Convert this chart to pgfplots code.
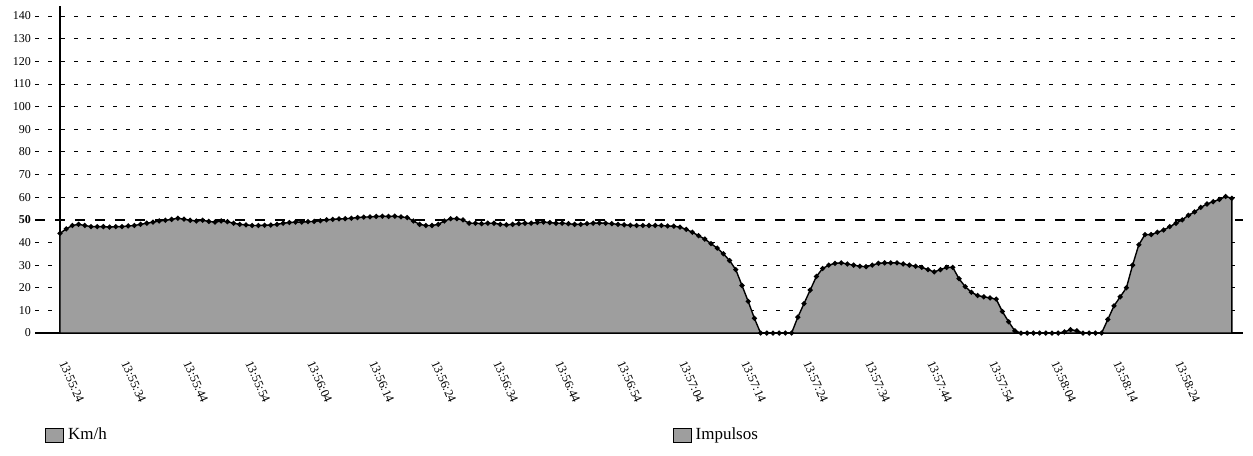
\documentclass[border=0pt]{standalone}
\usepackage{pgfplots}
\pgfplotsset{compat=1.18}
\usepackage{fontspec}
\setmainfont{Liberation Serif}
\begin{document}
\begin{tikzpicture}
\begin{axis}[
  scale only axis,
  width=591.5pt, height=163.5pt,
  xmin=0, xmax=190.8, ymin=0, ymax=144.4,
  axis x line=bottom, axis y line=left,
  axis line style={-, line width=0.7pt},
  clip=false,
  major tick length=0pt,
  /pgf/number format/assume math mode=true,
  ytick={0,10,...,140},
  yticklabels={0,10,20,30,40,\textbf{50},60,70,80,90,100,110,120,130,140},
  yticklabel style={font=\fontsize{6}{7}\selectfont, xshift=-11pt},
  xtick={0,10,...,180},
  xticklabels={13:55:24,13:55:34,13:55:44,13:55:54,13:56:04,13:56:14,13:56:24,13:56:34,13:56:44,13:56:54,13:57:04,13:57:14,13:57:24,13:57:34,13:57:44,13:57:54,13:58:04,13:58:14,13:58:24},
  xticklabel style={font=\fontsize{6.2}{7}\selectfont, rotate=-66, anchor=west},
  xticklabel shift=11pt,
  legend columns=2,
  legend style={at={(axis cs:-3.4,-45)}, anchor=west, draw=none, fill=none,
    font=\fontsize{8.5}{10}\selectfont,
    /tikz/every even column/.append style={column sep=281pt}},
  legend cell align=left,
  legend image code/.code={\draw[#1, draw=black, line width=0.4pt] (0pt,-3.5pt) rectangle (9pt,3.5pt);},
]
\pgfplotsinvokeforeach{10,20,30,40,60,70,80,90,100,110,120,130,140}{
  \draw[black, line width=0.4pt, dash pattern=on 2pt off 4.5pt] (axis cs:-4,#1) -- (axis cs:190.8,#1);
}
\draw[black, line width=0.7pt, dash pattern=on 5pt off 5pt] (axis cs:-4,50) -- (axis cs:190.8,50);
\draw[black, line width=0.7pt] (axis cs:-4,0) -- (axis cs:0,0);
\addplot[draw=black, line width=0.7pt, fill=black!38, mark=*, mark size=0.9pt, mark options={fill=black}]
coordinates {
(0,44)(1,46)(2,47.5)(3,48)(4,47.5)(5,47)(6,47)(7,47)(8,46.8)(9,47)
(10,47)(11,47.3)(12,47.5)(13,48)(14,48.5)(15,49)(16,49.5)(17,49.8)(18,50.2)(19,50.7)
(20,50.3)(21,49.8)(22,49.5)(23,49.8)(24,49.3)(25,49)(26,49.5)(27,49.2)(28,48.5)(29,48)
(30,47.8)(31,47.5)(32,47.5)(33,47.6)(34,47.7)(35,48)(36,48.5)(37,48.8)(38,49)(39,49)
(40,49.2)(41,49.3)(42,49.6)(43,50)(44,50.2)(45,50.4)(46,50.5)(47,50.7)(48,51)(49,51.2)
(50,51.3)(51,51.5)(52,51.6)(53,51.5)(54,51.6)(55,51.3)(56,51)(57,49.5)(58,48)(59,47.5)
(60,47.5)(61,48)(62,49.5)(63,50.5)(64,50.5)(65,50)(66,48.5)(67,48.5)(68,48.3)(69,48.5)
(70,48.5)(71,48)(72,47.8)(73,48)(74,48.3)(75,48.5)(76,48.5)(77,48.8)(78,49)(79,48.8)
(80,48.5)(81,48.5)(82,48.3)(83,48)(84,48)(85,48.3)(86,48.5)(87,48.6)(88,48.5)(89,48.3)
(90,48)(91,47.8)(92,47.6)(93,47.5)(94,47.5)(95,47.5)(96,47.5)(97,47.5)(98,47.3)(99,47.2)
(100,46.8)(101,45.8)(102,44.5)(103,43)(104,41.5)(105,39.5)(106,37.5)(107,35)(108,32)(109,28)
(110,21)(111,14)(112,6.5)(113,0)(114,0)(115,0)(116,0)(117,0)(118,0)(119,7)
(120,13)(121,19)(122,25)(123,28.5)(124,30)(125,30.8)(126,31)(127,30.5)(128,30)(129,29.5)
(130,29.3)(131,30)(132,30.8)(133,31)(134,31)(135,31)(136,30.5)(137,30)(138,29.5)(139,29)
(140,28)(141,27)(142,28)(143,29)(144,29)(145,24)(146,20.5)(147,18)(148,16.6)(149,16)
(150,15.5)(151,15)(152,9.5)(153,5)(154,1)(155,0)(156,0)(157,0)(158,0)(159,0)
(160,0)(161,0)(162,0.5)(163,1.5)(164,1)(165,0)(166,0)(167,0)(168,0)(169,6)
(170,12)(171,16)(172,20)(173,30)(174,39)(175,43.5)(176,43.5)(177,44.5)(178,45.5)(179,47)
(180,48.5)(181,50)(182,52)(183,53.5)(184,55.5)(185,57)(186,58)(187,59)(188,60.3)(189,59.5)
} \closedcycle;
\addlegendentry{Km/h}
\addlegendimage{fill=black!38}
\addlegendentry{Impulsos}
\coordinate (bbll) at (axis cs:-9.677,-53.89);
\coordinate (bbur) at (axis cs:192.42,147.08);
\end{axis}
\pgfresetboundingbox
\path[use as bounding box] (bbll) rectangle (bbur);
\end{tikzpicture}
\end{document}
